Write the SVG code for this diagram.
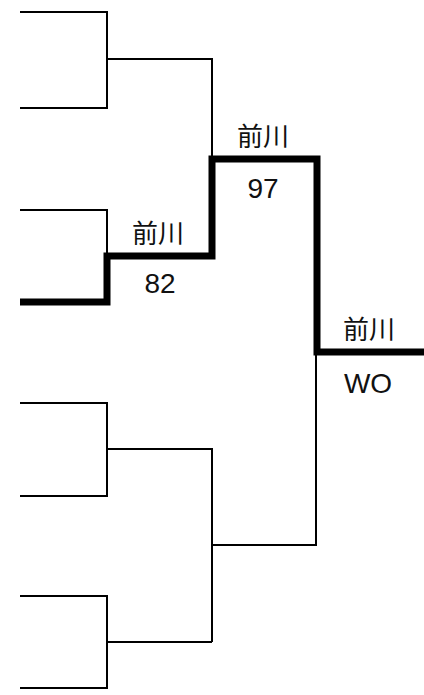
<svg xmlns="http://www.w3.org/2000/svg" width="424" height="695" viewBox="0 0 424 695">
<style>
.thin{fill:none;stroke:#000;stroke-width:2}
.thick{fill:none;stroke:#000;stroke-width:7;stroke-linejoin:miter;stroke-linecap:butt}
.lbl{font-family:"Liberation Sans","Noto Sans CJK JP",sans-serif;font-size:26px;fill:#111;text-anchor:middle}
.num{font-size:28px}
</style>
<rect width="424" height="695" fill="#fff"/>
<g id="connectors">
<path class="thin" d="M20 12H107V108H20M107 59H212V158"/>
<path class="thin" d="M20 210H107V256"/>
<path class="thin" d="M20 403H107V496H20M107 449H212V642M20 596H107V688H20M107 642H212M212 545H316V352"/>
<path class="thick" d="M20 302H107V256H212V159H317V352H424"/>
</g>
<g id="match1">
<text class="lbl" x="158" y="243">前川</text>
<text class="lbl num" x="160" y="293">82</text>
</g>
<g id="match2">
<text class="lbl" x="263" y="146">前川</text>
<text class="lbl num" x="263" y="198">97</text>
</g>
<g id="final">
<text class="lbl" x="369" y="339">前川</text>
<text class="lbl num" x="368" y="393">WO</text>
</g>
</svg>
